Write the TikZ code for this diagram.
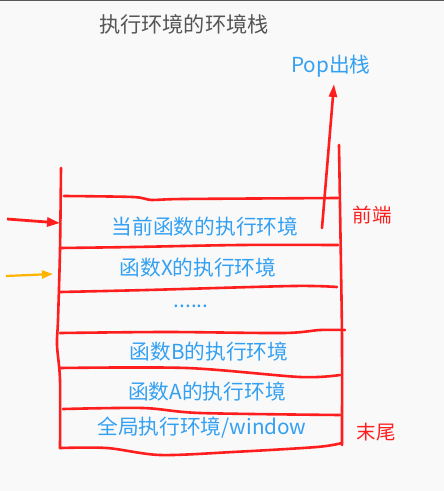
\documentclass[tikz,border=0pt]{standalone}
\usepackage{fontspec}
\newfontfamily\cjk{Noto Sans CJK SC}
\usetikzlibrary{arrows.meta}
\definecolor{bgcol}{HTML}{F9F9F9}
\definecolor{inkred}{HTML}{FF1E1E}
\definecolor{inkblue}{HTML}{33A0F2}
\definecolor{inkorange}{HTML}{FFB400}
\definecolor{titlegray}{HTML}{555555}
\tikzset{
	redline/.style={inkred, line width=2.6pt, line cap=round, line join=round},
	frame/.style={font=\cjk\fontsize{20.7}{23}\selectfont, text=inkblue},
	side/.style={font=\cjk\fontsize{19.5}{22}\selectfont, text=inkred},
}
\begin{document}
\begin{tikzpicture}[x=1pt, y=-1pt]
		\fill[bgcol] (0,0) rectangle (444,491);
		\useasboundingbox (0,0) rectangle (444,491);
		\draw[gray!70!black, line width=1pt] (0,0.5) -- (444,0.5);
		% titles
		\node[font=\cjk\fontsize{21.2}{23}\selectfont, text=titlegray] (title) at (184,24) {执行环境的环境栈};
		\node[frame] (pop) at (331,66) {Pop出栈};
		% stack frame
		\draw[redline] plot[smooth] coordinates {(61,168) (60,250) (58,320) (57,345) (60,380) (60,448)};
		\draw[redline] plot[smooth] coordinates {(339,145) (341,267) (342,340) (342,445)};
		\draw[redline] plot[smooth] coordinates {(64,196) (133,197) (152,200) (183,199) (338,198)};
		\draw[redline] plot[smooth] coordinates {(60,248) (133,247) (240,245) (338,245)};
		\draw[redline] plot[smooth] coordinates {(60,292) (147,290) (293,286) (337,287)};
		\draw[redline] plot[smooth] coordinates {(60,333) (167,332) (283,333) (320,330) (345,330)};
		\draw[redline] plot[smooth] coordinates {(60,368) (187,368) (300,377) (340,375)};
		\draw[redline] plot[smooth] coordinates {(63,409) (143,408) (200,413) (340,415)};
		\draw[redline] plot[smooth] coordinates {(60,448) (107,448) (160,455) (233,452) (317,447) (342,443)};
		% frames
		\node[frame] (cur) at (205,227) {当前函数的执行环境};
		\node[frame] (fx) at (198,268) {函数X的执行环境};
		\node[frame] (dots) at (191,306) {......};
		\node[frame] (fb) at (209,352) {函数B的执行环境};
		\node[frame] (fa) at (207,392) {函数A的执行环境};
		\node[frame] (glob) at (202,428) {全局执行环境/window};
		\node[side] (front) at (372,215) {前端};
		\node[side] (tail) at (376,432) {末尾};
		% arrows
		\coordinate (popstart) at (322,228);
		\coordinate (poptip) at (334,84);
		\draw[redline, -{Triangle[length=13pt, width=8pt]}] (popstart) -- (poptip);
		\coordinate (redin) at (7,219);
		\coordinate (redtip) at (60,223);
		\draw[inkred, line width=2.8pt, -{Triangle[length=13pt, width=9pt]}] (redin) -- (redtip);
		\coordinate (orin) at (6,276);
		\coordinate (ortip) at (53,274);
		\draw[inkorange, line width=2.2pt, -{Triangle[length=11pt, width=8pt]}] (orin) -- (ortip);
\end{tikzpicture}
\end{document}
